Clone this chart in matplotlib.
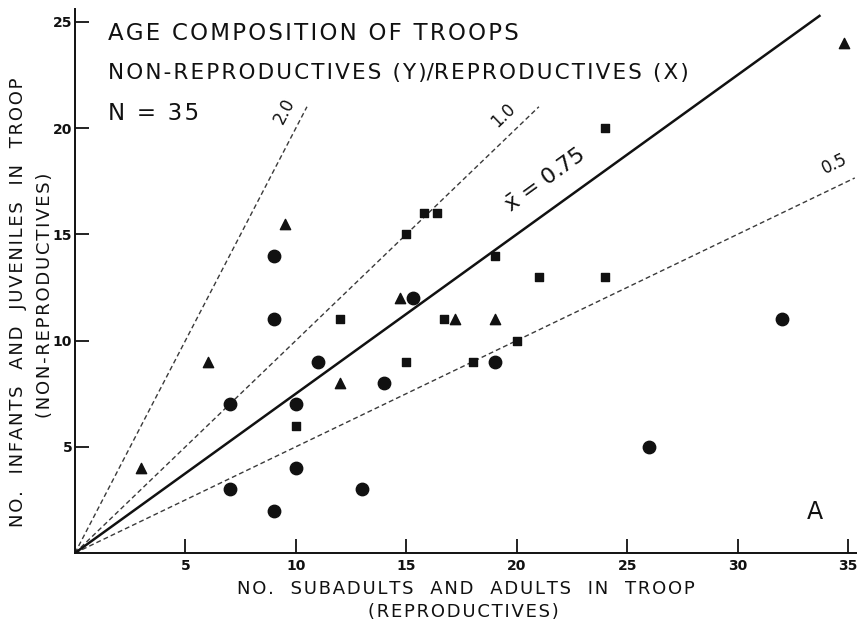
import matplotlib
matplotlib.use("Agg")
import matplotlib.pyplot as plt
import numpy as np

# -----------------------------
# Data
# -----------------------------

circle_x = [9, 9, 11, 7, 10, 14, 10, 7, 13, 9, 15.3, 19, 26, 32]
circle_y = [14, 11, 9, 7, 7, 8, 4, 3, 3, 2, 12, 9, 5, 11]

triangle_x = [3, 6, 9.5, 12, 14.7, 17.2, 19, 34.8]
triangle_y = [4, 9, 15.5, 8, 12, 11, 11, 24]

square_x = [10, 12, 15, 15, 15.8, 16.4, 16.7, 18, 20, 19, 21, 24, 24]
square_y = [6, 11, 9, 15, 16, 16, 11, 9, 10, 14, 13, 13, 20]

# reference ratio lines: (slope, x end, label)
ratio_slopes = [2.0, 1.0, 0.5]
ratio_x_end = [10.5, 21.0, 35.3]
ratio_labels = ["2.0", "1.0", "0.5"]

mean_slope = 0.75
mean_x_end = 33.7

x_ticks = [5, 10, 15, 20, 25, 30, 35]
y_ticks = [5, 10, 15, 20, 25]


def spaced(text, gap="\u200a"):
    # wide letter spacing like the original lettering
    return gap.join(text)


# -----------------------------
# Figure
# -----------------------------

fig = plt.figure(figsize=(8.57, 6.25), dpi=100)
ax = fig.add_axes([75 / 857, 72 / 625, 782 / 857, 544 / 625])
ax.set_xlim(0, 35.4)
ax.set_ylim(0, 25.6)

ink = "#111111"

for slope, x_end in zip(ratio_slopes, ratio_x_end):
    xs = np.array([0, x_end])
    ax.plot(xs, slope * xs, linestyle=(0, (3.5, 2.2)), color="#3a3a3a",
            linewidth=1.0, zorder=2)

xs = np.array([0, mean_x_end])
ax.plot(xs, mean_slope * xs, color=ink, linewidth=1.8, zorder=2)

ax.scatter(circle_x, circle_y, marker="o", s=80, color=ink, zorder=3)
ax.scatter(triangle_x, triangle_y, marker="^", s=55, color=ink, zorder=3)
ax.scatter(square_x, square_y, marker="s", s=36, color=ink, zorder=3)


# line labels, rotated along the lines
def line_angle(slope):
    p1 = ax.transData.transform((0, 0))
    p2 = ax.transData.transform((1, slope))
    return np.degrees(np.arctan2(p2[1] - p1[1], p2[0] - p1[0]))


label_pos = [(9.5, 20.8), (19.4, 20.6), (34.4, 18.3)]
for slope, (lx, ly), text in zip(ratio_slopes, label_pos, ratio_labels):
    ax.text(lx, ly, text, rotation=line_angle(slope), rotation_mode="anchor",
            ha="center", va="center", fontsize=12, color=ink)

ax.text(21.3, 17.5, r"$\bar{\mathregular{x}}$ = 0.75", rotation=line_angle(mean_slope),
        rotation_mode="anchor", ha="center", va="center", fontsize=16, color=ink)

# titles inside plot
fig.text(108 / 857, 1 - 34 / 625, spaced("AGE COMPOSITION OF TROOPS"),
         ha="left", va="center", fontsize=16.5, color=ink)
fig.text(108 / 857, 1 - 73 / 625,
         spaced("NON-REPRODUCTIVES (Y)") + "/" + spaced("REPRODUCTIVES (X)"),
         ha="left", va="center", fontsize=15.5, color=ink)
fig.text(108 / 857, 1 - 113 / 625, spaced("N = 35"),
         ha="left", va="center", fontsize=16.5, color=ink)
fig.text(815 / 857, 1 - 512 / 625, "A", ha="center", va="center",
         fontsize=17, color=ink)

# axis labels
label_kw = dict(ha="center", va="center", fontsize=13, color=ink)
fig.text(466 / 857, 1 - 589 / 625,
         spaced("NO.  SUBADULTS  AND  ADULTS  IN  TROOP"), **label_kw)
fig.text(463 / 857, 1 - 612 / 625, spaced("(REPRODUCTIVES)"), **label_kw)
fig.text(18 / 857, 1 - 302 / 625,
         spaced("NO.  INFANTS  AND  JUVENILES  IN  TROOP"), rotation=90, **label_kw)
fig.text(45 / 857, 1 - 295 / 625, spaced("(NON-REPRODUCTIVES)"),
         rotation=90, **label_kw)

# axes styling
for side in ["top", "right"]:
    ax.spines[side].set_visible(False)
for side in ["left", "bottom"]:
    ax.spines[side].set_linewidth(1.4)
    ax.spines[side].set_color(ink)

ax.set_xticks(x_ticks)
ax.set_yticks(y_ticks)
ax.tick_params(direction="in", length=10, width=1.3, color=ink)
ax.tick_params(axis="y", pad=2)
ax.tick_params(axis="x", pad=4)
for lab in ax.get_xticklabels() + ax.get_yticklabels():
    lab.set_fontfamily("DejaVu Sans")
    lab.set_fontweight("bold")
    lab.set_fontsize(10)
    lab.set_color(ink)

fig.savefig("out.png", dpi=100)
